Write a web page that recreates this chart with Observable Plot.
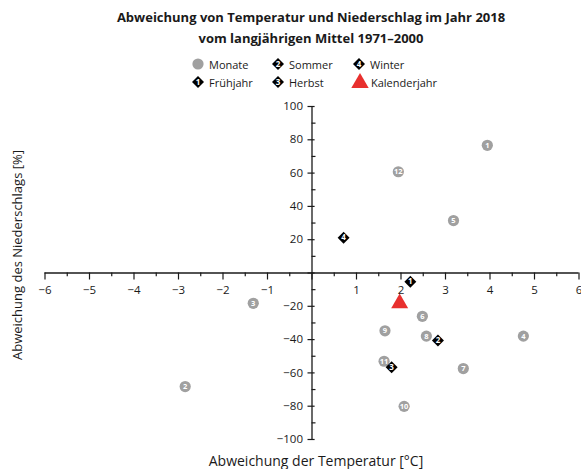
<!DOCTYPE html>
<html>
<head>
<meta charset="utf-8">
<script src="https://cdn.jsdelivr.net/npm/d3@7"></script>
<script src="https://cdn.jsdelivr.net/npm/@observablehq/plot@0.6"></script>
<style>
  html, body { margin: 0; padding: 0; background: #fff; }
  body { font-family: "Open Sans", sans-serif; color: #1a1a1a; width: 581px; }
  #header { position: relative; width: 581px; height: 95px; }
  .title { position: absolute; left: 44px; width: 534px; text-align: center; font-weight: bold; font-size: 13px; line-height: 1; }
  .leg { position: absolute; font-size: 11px; line-height: 1; display: flex; align-items: center; }
  .leg svg { position: absolute; overflow: visible; }
  #chart svg { display: block; }
</style>
</head>
<body>
<div id="header"></div>
<div id="chart"></div>
<script>
// ---- data ----
const months = [1, 2, 3, 4, 5, 6, 7, 8, 9, 10, 11, 12];
const monthTemp = [3.94, -2.85, -1.32, 4.75, 3.18, 2.48, 3.40, 2.57, 1.64, 2.07, 1.62, 1.94];
const monthPrec = [76.7, -68.2, -18.2, -37.9, 31.5, -26.0, -57.4, -37.9, -34.7, -80.1, -53.0, 60.8];

const seasonNums = [1, 2, 3, 4];
const seasonNames = ["Frühjahr", "Sommer", "Herbst", "Winter"];
const seasonTemp = [2.21, 2.83, 1.79, 0.71];
const seasonPrec = [-5.3, -40.5, -56.6, 21.2];

const yearTemp = [1.97];
const yearPrec = [-18.2];

const xTicks = [-6, -5, -4, -3, -2, -1, 0, 1, 2, 3, 4, 5, 6];
const xMinor = [-5.5, -4.5, -3.5, -2.5, -1.5, -0.5, 0.5, 1.5, 2.5, 3.5, 4.5, 5.5];
const xLabels = [-6, -5, -4, -3, -2, -1, 1, 2, 3, 4, 5, 6];
const yTicks = [-100, -80, -60, -40, -20, 0, 20, 40, 60, 80, 100];
const yMinor = [-90, -70, -50, -30, -10, 10, 30, 50, 70, 90];
const yLabels = [-100, -80, -60, -40, -20, 20, 40, 60, 80, 100];

const titleLines = ["Abweichung von Temperatur und Niederschlag im Jahr 2018", "vom langjährigen Mittel 1971–2000"];
const xTitle = "Abweichung der Temperatur [°C]";
const yTitle = "Abweichung des Niederschlags [%]";

const GRAY = "#a0a0a0";
const RED = "#e8302e";
const fmt = d => String(d).replace("-", "−");

// ---- header (title + legend) ----
const header = document.getElementById("header");
titleLines.forEach((t, i) => {
  const el = document.createElement("div");
  el.className = "title";
  el.style.top = (i === 0 ? 11 : 32) + "px";
  el.textContent = t;
  header.appendChild(el);
});

function legendItem(x, y, iconSvg, label) {
  const el = document.createElement("div");
  el.className = "leg";
  el.style.left = x + "px";
  el.style.top = (y - 7) + "px";
  el.style.height = "14px";
  el.innerHTML = iconSvg + `<span style="margin-left:11px">${label}</span>`;
  header.appendChild(el);
}
const circleIcon = `<svg width="12" height="12" style="left:-6px;top:1px" viewBox="-6 -6 12 12"><circle r="5.6" fill="${GRAY}"/></svg>`;
const diamondIcon = n => `<svg width="12" height="12" style="left:-6px;top:1px" viewBox="-6 -6 12 12"><path d="M0,-6L6,0L0,6L-6,0Z" fill="#000"/><text y="3" text-anchor="middle" fill="#fff" font-size="8" font-weight="bold" font-family="Open Sans">${n}</text></svg>`;
const triIcon = `<svg width="18" height="16" style="left:-9px;top:-2px" viewBox="-9 -10 18 16"><path d="M0,-10L8.7,5L-8.7,5Z" fill="${RED}"/></svg>`;

legendItem(198, 64, circleIcon, "Monate");
legendItem(278, 64, diamondIcon(2), seasonNames[1]);
legendItem(359, 64, diamondIcon(4), seasonNames[3]);
legendItem(198, 82, diamondIcon(1), seasonNames[0]);
legendItem(278, 82, diamondIcon(3), seasonNames[2]);
legendItem(360, 82, triIcon, "Kalenderjahr");

// ---- chart ----
const monthData = months.map((m, i) => ({m, t: monthTemp[i], p: monthPrec[i]}));
const seasonData = seasonNums.map((s, i) => ({s, t: seasonTemp[i], p: seasonPrec[i]}));
const yearData = yearTemp.map((t, i) => ({t, p: yearPrec[i]}));

const chart = Plot.plot({
  width: 581,
  height: 374,
  marginTop: 11,
  marginBottom: 30,
  marginLeft: 44.5,
  marginRight: 2.5,
  style: {fontFamily: "Open Sans", fontSize: "11.5px", color: "#1a1a1a", overflow: "visible"},
  x: {domain: [-6, 6], axis: null},
  y: {domain: [-100, 100], axis: null},
  marks: [
    // axis lines through the origin
    Plot.ruleY([0], {stroke: "#1a1a1a", strokeWidth: 1.3}),
    Plot.ruleX([0], {stroke: "#1a1a1a", strokeWidth: 1.3}),
    // x ticks
    Plot.ruleX(xTicks, {x: d => d, y1: () => 0, y2: () => -4.2, stroke: "#1a1a1a", strokeWidth: 1.2}),
    Plot.ruleX(xMinor, {x: d => d, y1: () => 0, y2: () => -2.2, stroke: "#1a1a1a", strokeWidth: 1.2}),
    // y ticks
    Plot.ruleY(yTicks, {y: d => d, x1: () => -0.09, x2: () => 0.07, stroke: "#1a1a1a", strokeWidth: 1.2}),
    Plot.ruleY(yMinor, {y: d => d, x1: () => 0, x2: () => 0.09, stroke: "#1a1a1a", strokeWidth: 1.2}),
    // tick labels
    Plot.text(xLabels, {x: d => d, y: () => 0, dy: 17, text: fmt, fill: "#1a1a1a"}),
    Plot.text(yLabels, {x: () => 0, y: d => d, dx: -9, textAnchor: "end", text: fmt, fill: "#1a1a1a"}),
    // axis titles
    Plot.text([xTitle], {frameAnchor: "bottom", dy: 26, dx: 4, fontSize: 14, fill: "#1a1a1a"}),
    Plot.text([yTitle], {frameAnchor: "left", textAnchor: "middle", rotate: -90, dx: -27, dy: -18, fontSize: 13, fill: "#1a1a1a"}),
    // months
    Plot.dot(monthData, {x: "t", y: "p", r: 5.6, fill: GRAY}),
    Plot.text(monthData, {x: "t", y: "p", text: d => String(d.m), fill: "#fff", fontSize: 7.5, fontWeight: "bold", letterSpacing: -0.5}),
    // year
    Plot.dot(yearData, {x: "t", y: "p", symbol: "triangle", r: 6.3, fill: RED}),
    // seasons
    Plot.dot(seasonData, {x: "t", y: "p", symbol: "diamond2", r: 5.4, fill: "#000"}),
    Plot.text(seasonData, {x: "t", y: "p", text: d => String(d.s), fill: "#fff", fontSize: 8, fontWeight: "bold"})
  ]
});
document.getElementById("chart").appendChild(chart);
</script>
</body>
</html>
